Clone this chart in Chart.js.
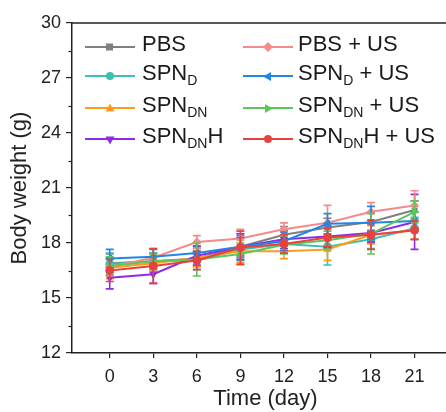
<!DOCTYPE html>
<html><head><meta charset="utf-8">
<script src="https://cdn.jsdelivr.net/npm/chart.js@4/dist/chart.umd.min.js"></script>
<style>
html,body{margin:0;padding:0;background:#fff;overflow:hidden;width:446px;height:412px;}
#wrap{position:relative;width:464px;height:412px;}
canvas{display:block;}
.leg{position:absolute;font-family:"Liberation Sans",Arial,sans-serif;font-size:22px;line-height:22px;color:#1a1a1a;white-space:nowrap;}
.sub{font-size:14px;position:relative;top:5px;}
.sw{position:absolute;}
</style></head><body>
<div id="wrap"><canvas id="c" width="464" height="412"></canvas><div id="legend"></div></div>
<script>
// ---- data ----
const days = [0, 3, 6, 9, 12, 15, 18, 21];
const xTicks = [0, 3, 6, 9, 12, 15, 18, 21];
const yTicks = [12, 15, 18, 21, 24, 27, 30];
const yMinorTicks = [13.5, 16.5, 19.5, 22.5, 25.5, 28.5];

const pbs        = [16.9, 17.0, 17.15, 17.8, 18.45, 18.85, 19.15, 19.8];
const spnD       = [16.85, 17.0, 17.05, 17.65, 17.95, 17.8, 18.2, 18.8];
const spnDN      = [16.65, 16.9, 17.2, 17.55, 17.55, 17.65, 18.45, 18.7];
const spnDNH     = [16.1, 16.3, 17.3, 17.8, 18.2, 18.35, 18.55, 19.15];
const pbsUS      = [16.7, 17.2, 18.05, 18.25, 18.75, 19.1, 19.7, 20.05];
const spnDUS     = [17.15, 17.25, 17.45, 17.8, 18.1, 19.05, 19.1, 19.2];
const spnDNUS    = [16.75, 17.0, 17.1, 17.4, 17.9, 18.15, 18.5, 19.7];
const spnDNHUS   = [16.5, 16.75, 17.05, 17.75, 17.95, 18.3, 18.45, 18.7];

const pbsErr      = [0.5, 0.45, 0.4, 0.6, 0.45, 0.5, 0.55, 0.5];
const spnDErr     = [0.6, 0.45, 0.5, 0.6, 0.5, 1.0, 0.5, 0.6];
const spnDNErr    = [0.6, 0.45, 0.5, 0.6, 0.4, 0.6, 0.5, 0.5];
const spnDNHErr   = [0.6, 0.5, 0.5, 0.7, 0.5, 0.6, 0.5, 1.5];
const pbsUSErr    = [0.5, 0.5, 0.35, 0.5, 0.35, 0.95, 0.5, 0.8];
const spnDUSErr   = [0.5, 0.4, 0.4, 0.5, 0.5, 0.55, 0.9, 0.5];
const spnDNUSErr  = [0.5, 0.4, 0.9, 0.6, 0.5, 0.5, 1.1, 0.6];
const spnDNHUSErr = [0.6, 0.95, 0.5, 0.9, 0.5, 0.5, 0.8, 0.5];

// label parts: [main, subscript, tail]
const labels = [
  ['PBS', '', ''], ['SPN', 'D', ''], ['SPN', 'DN', ''], ['SPN', 'DN', 'H'],
  ['PBS + US', '', ''], ['SPN', 'D', ' + US'], ['SPN', 'DN', ' + US'], ['SPN', 'DN', 'H + US']
];
const values = [pbs, spnD, spnDN, spnDNH, pbsUS, spnDUS, spnDNUS, spnDNHUS];
const errors = [pbsErr, spnDErr, spnDNErr, spnDNHErr, pbsUSErr, spnDUSErr, spnDNUSErr, spnDNHUSErr];

// ---- styles ----
const colors = ['#808080', '#3dbfb2', '#ff9a1c', '#8d2be6', '#f48a8b', '#1f87e6', '#5cc65a', '#e8423f'];
const shapes = ['rect', 'circle', 'triangle', 'triangle', 'rectRot', 'triangle', 'triangle', 'circle'];
const rotations = [0, 0, 0, 180, 0, 270, 90, 0];
const FONT = '"Liberation Sans", Arial, sans-serif';

const datasets = values.map((v, i) => ({
  label: labels[i].join(''),
  data: days.map((d, j) => ({x: d, y: v[j]})),
  errs: errors[i],
  borderColor: colors[i],
  backgroundColor: colors[i],
  pointBackgroundColor: colors[i],
  pointBorderColor: colors[i],
  pointStyle: shapes[i],
  pointRotation: rotations[i],
  pointRadius: shapes[i] === 'rect' ? 3.5 : 4,
  pointBorderWidth: 1,
  borderWidth: 2,
  tension: 0,
  order: values.length - 1 - i
}));

const errorBars = {
  id: 'errorBars',
  afterDatasetDraw(chart, args) {
    const ds = chart.data.datasets[args.index];
    const meta = args.meta;
    const ys = chart.scales.y;
    const ctx = chart.ctx;
    ctx.save();
    ctx.strokeStyle = ds.borderColor;
    ctx.lineWidth = 1.6;
    meta.data.forEach((pt, j) => {
      const v = ds.data[j].y, e = ds.errs[j];
      const yt = ys.getPixelForValue(v + e), yb = ys.getPixelForValue(v - e);
      const x = pt.x;
      ctx.beginPath();
      ctx.moveTo(x, yt); ctx.lineTo(x, yb);
      ctx.moveTo(x - 4, yt); ctx.lineTo(x + 4, yt);
      ctx.moveTo(x - 4, yb); ctx.lineTo(x + 4, yb);
      ctx.stroke();
    });
    ctx.restore();
  }
};

const frame = {
  id: 'frame',
  afterDraw(chart) {
    const ctx = chart.ctx, a = chart.chartArea, ys = chart.scales.y;
    ctx.save();
    ctx.strokeStyle = '#222';
    ctx.lineWidth = 1.5;
    ctx.beginPath();
    ctx.moveTo(a.left - 0.75, a.top); ctx.lineTo(a.right, a.top);
    ctx.stroke();
    ctx.lineWidth = 1.2;
    yMinorTicks.forEach(v => {
      const y = Math.round(ys.getPixelForValue(v)) + 0.5;
      ctx.beginPath();
      ctx.moveTo(a.left - 3.5, y); ctx.lineTo(a.left, y);
      ctx.stroke();
    });
    ctx.restore();
  }
};

new Chart(document.getElementById('c'), {
  type: 'line',
  data: {datasets},
  plugins: [errorBars, frame],
  options: {
    responsive: false,
    animation: false,
    layout: {padding: {top: 23, left: 0, right: 0, bottom: 0}},
    plugins: {legend: {display: false}, tooltip: {enabled: false}},
    scales: {
      x: {
        type: 'linear', min: -2.6, max: 24.06,
        afterBuildTicks: s => { s.ticks = xTicks.map(v => ({value: v})); },
        afterFit: s => { s.height = 59; },
        grid: {display: true, drawOnChartArea: false, drawTicks: true, tickLength: 5, color: '#222', lineWidth: 1.2},
        border: {display: true, color: '#222', width: 1.5},
        ticks: {font: {size: 18, family: FONT}, color: '#222', padding: 8, maxRotation: 0, autoSkip: false},
        title: {display: true, text: 'Time (day)', font: {size: 22, family: FONT}, color: '#222', padding: {top: 0, bottom: 0}}
      },
      y: {
        min: 12, max: 30,
        afterBuildTicks: s => { s.ticks = yTicks.map(v => ({value: v})); },
        afterFit: s => { s.width = 72; },
        grid: {display: true, drawOnChartArea: false, drawTicks: true, tickLength: 6, color: '#222', lineWidth: 1.2},
        border: {display: true, color: '#222', width: 1.5},
        ticks: {font: {size: 18, family: FONT}, color: '#222', padding: 5},
        title: {display: true, text: 'Body weight (g)', font: {size: 22, family: FONT}, color: '#222', padding: {top: 7, bottom: 0}}
      }
    }
  }
});

// ---- legend (HTML, with subscripts) ----
const legRows = [45, 74, 106, 137];
const legCols = [{line: 85, text: 142}, {line: 243, text: 298}];
const leg = document.getElementById('legend');
function markerSVG(i) {
  const c = colors[i], s = shapes[i], r = rotations[i];
  let m = '';
  if (s === 'rect') m = `<rect x="21" y="2.5" width="7" height="7" fill="${c}"/>`;
  else if (s === 'circle') m = `<circle cx="25" cy="6" r="4" fill="${c}"/>`;
  else if (s === 'rectRot') m = `<rect x="21.5" y="2.5" width="7" height="7" fill="${c}" transform="rotate(45 25 6)"/>`;
  else m = `<polygon points="25,1.5 29.5,9.5 20.5,9.5" fill="${c}" transform="rotate(${r} 25 6.5)"/>`;
  return `<svg width="50" height="12" viewBox="0 0 50 12"><line x1="0" y1="6" x2="50" y2="6" stroke="${c}" stroke-width="2"/>${m}</svg>`;
}
labels.forEach((l, i) => {
  const col = legCols[Math.floor(i / 4)], y = legRows[i % 4];
  const sw = document.createElement('div');
  sw.className = 'sw';
  sw.style.left = col.line + 'px'; sw.style.top = (y - 6) + 'px';
  sw.innerHTML = markerSVG(i);
  leg.appendChild(sw);
  const t = document.createElement('div');
  t.className = 'leg';
  t.style.left = col.text + 'px'; t.style.top = (y - 12) + 'px';
  t.innerHTML = l[0] + (l[1] ? `<span class="sub">${l[1]}</span>` : '') + l[2];
  leg.appendChild(t);
});
</script>
</body></html>
